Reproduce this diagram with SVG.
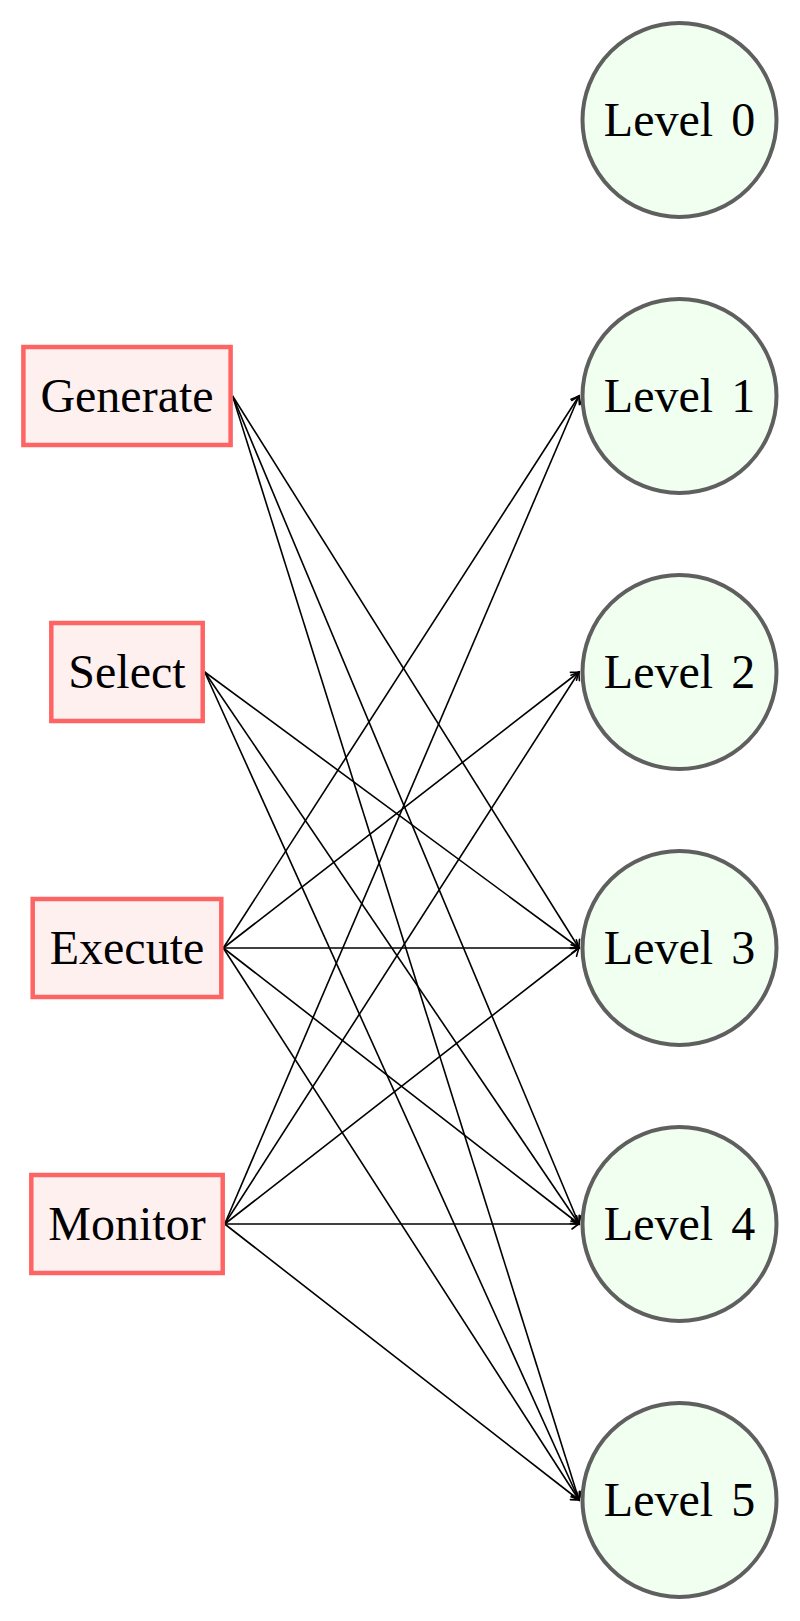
<svg xmlns="http://www.w3.org/2000/svg" width="800" height="1621" viewBox="0 0 800 1621">
<style>
.box{fill:#FFF0F0;stroke:#FF6464;stroke-width:4.5}
.lvl{fill:#F0FFF0;stroke:#5F5F5F;stroke-width:4}
.t{font-family:"Liberation Serif","Times New Roman",serif;font-size:48px;fill:#000;text-anchor:middle}
.lt{word-spacing:6px}
.e{stroke:#000;stroke-width:1.6;fill:none;marker-end:url(#ah)}
</style>
<defs>
<marker id="ah" markerUnits="userSpaceOnUse" markerWidth="14" markerHeight="14" viewBox="-10 -7 12 14" refX="0" refY="0" orient="auto">
<path d="M -7 -5 Q -2 -1.2 0 0 Q -2 1.2 -7 5" fill="none" stroke="#000" stroke-width="1.6" stroke-linecap="round"/>
</marker>
</defs>
<g id="connectors">
<line class="e" x1="232.6" y1="396" x2="579" y2="948"/>
<line class="e" x1="232.6" y1="396" x2="579" y2="1224"/>
<line class="e" x1="232.6" y1="396" x2="579" y2="1500"/>
<line class="e" x1="204.7" y1="672" x2="579" y2="948"/>
<line class="e" x1="204.7" y1="672" x2="579" y2="1224"/>
<line class="e" x1="204.7" y1="672" x2="579" y2="1500"/>
<line class="e" x1="223.3" y1="948" x2="579" y2="396"/>
<line class="e" x1="223.3" y1="948" x2="579" y2="672"/>
<line class="e" x1="223.3" y1="948" x2="579" y2="948"/>
<line class="e" x1="223.3" y1="948" x2="579" y2="1224"/>
<line class="e" x1="223.3" y1="948" x2="579" y2="1500"/>
<line class="e" x1="224.7" y1="1224" x2="579" y2="396"/>
<line class="e" x1="224.7" y1="1224" x2="579" y2="672"/>
<line class="e" x1="224.7" y1="1224" x2="579" y2="948"/>
<line class="e" x1="224.7" y1="1224" x2="579" y2="1224"/>
<line class="e" x1="224.7" y1="1224" x2="579" y2="1500"/>
</g>
<g id="generate"><rect class="box" x="23.4" y="347" width="207.2" height="98"/><text class="t" x="127" y="412">Generate</text></g>
<g id="select"><rect class="box" x="51.3" y="623" width="151.4" height="98"/><text class="t" x="127" y="688">Select</text></g>
<g id="execute"><rect class="box" x="32.7" y="899" width="188.6" height="98"/><text class="t" x="127" y="964">Execute</text></g>
<g id="monitor"><rect class="box" x="31.3" y="1175" width="191.4" height="98"/><text class="t" x="127" y="1240">Monitor</text></g>
<g id="level0"><circle class="lvl" cx="679.5" cy="120" r="97"/><text class="t lt" x="679.5" y="136">Level 0</text></g>
<g id="level1"><circle class="lvl" cx="679.5" cy="396" r="97"/><text class="t lt" x="679.5" y="412">Level 1</text></g>
<g id="level2"><circle class="lvl" cx="679.5" cy="672" r="97"/><text class="t lt" x="679.5" y="688">Level 2</text></g>
<g id="level3"><circle class="lvl" cx="679.5" cy="948" r="97"/><text class="t lt" x="679.5" y="964">Level 3</text></g>
<g id="level4"><circle class="lvl" cx="679.5" cy="1224" r="97"/><text class="t lt" x="679.5" y="1240">Level 4</text></g>
<g id="level5"><circle class="lvl" cx="679.5" cy="1500" r="97"/><text class="t lt" x="679.5" y="1516">Level 5</text></g>
</svg>
